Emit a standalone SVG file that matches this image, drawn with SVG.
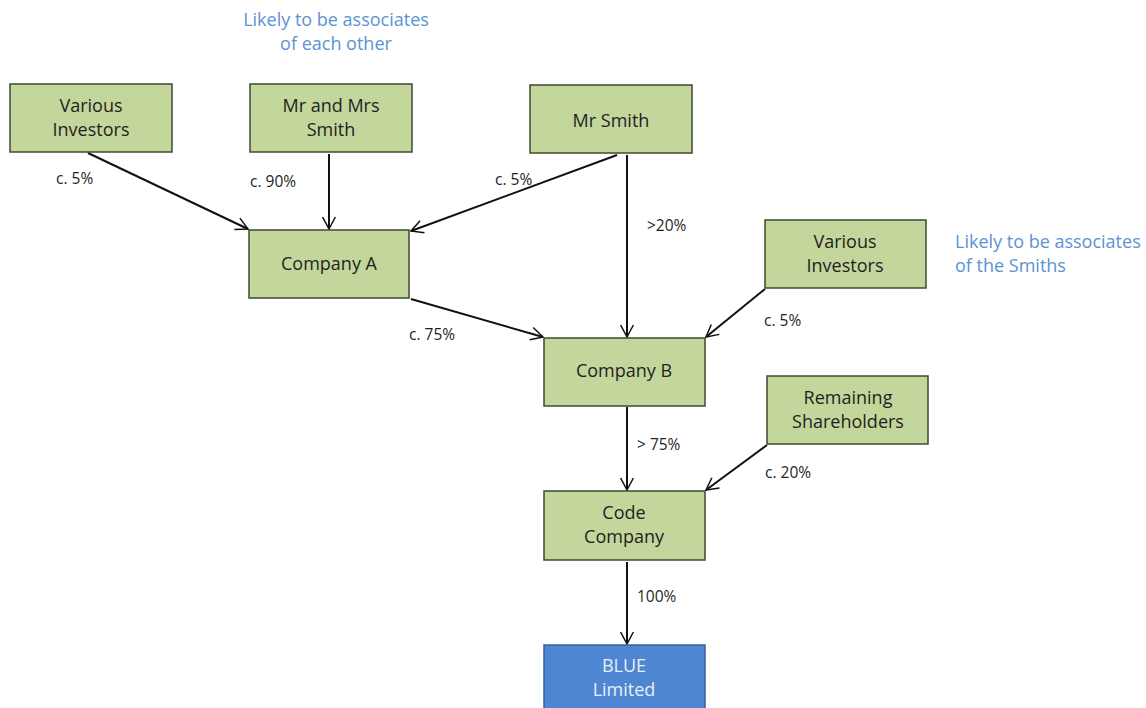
<svg xmlns="http://www.w3.org/2000/svg" width="1146" height="708" viewBox="0 0 1146 708">
<style>
.box{fill:#c3d69b;stroke:#3f4a30;stroke-width:1.5}
.blue{fill:#4f86d2;stroke:#3a5f99;stroke-width:1.5}
.t{font-family:"Open Sans","Noto Sans",sans-serif;font-size:18px;fill:#1f1f1f;text-anchor:middle}
.tw{font-family:"Open Sans","Noto Sans",sans-serif;font-size:18px;fill:#e8eef8;text-anchor:middle}
.l{font-family:"Open Sans","Noto Sans",sans-serif;font-size:15.5px;fill:#1f1f1f}
.n{font-family:"Open Sans","Noto Sans",sans-serif;font-size:18px;fill:#5b93d3}
.c{stroke:#111;stroke-width:2;fill:none;marker-end:url(#ah)}
</style>
<defs>
<marker id="ah" viewBox="0 0 20 20" refX="18" refY="10" markerWidth="15" markerHeight="15" markerUnits="userSpaceOnUse" orient="auto">
<polyline points="2,1.5 18,10 2,18.5" fill="none" stroke="#111" stroke-width="2"/>
</marker>
</defs>
<rect width="1146" height="708" fill="#fff"/>
<text class="n" x="336" y="26" text-anchor="middle">Likely to be associates</text>
<text class="n" x="336" y="50" text-anchor="middle">of each other</text>
<text class="n" x="955" y="248">Likely to be associates</text>
<text class="n" x="955" y="272">of the Smiths</text>
<g id="connectors">
<line class="c" x1="88" y1="153" x2="248" y2="229"/>
<line class="c" x1="329" y1="154" x2="329" y2="229"/>
<line class="c" x1="617" y1="155" x2="411" y2="231"/>
<line class="c" x1="627" y1="155" x2="627" y2="337"/>
<line class="c" x1="411" y1="299" x2="543" y2="337"/>
<line class="c" x1="765" y1="289" x2="706" y2="337"/>
<line class="c" x1="627" y1="407" x2="627" y2="490"/>
<line class="c" x1="767" y1="445" x2="706" y2="490"/>
<line class="c" x1="627" y1="562" x2="627" y2="644"/>
<text class="l" x="56" y="184">c. 5%</text>
<text class="l" x="250" y="187">c. 90%</text>
<text class="l" x="495" y="185">c. 5%</text>
<text class="l" x="647" y="231">&gt;20%</text>
<text class="l" x="409" y="340">c. 75%</text>
<text class="l" x="764" y="326">c. 5%</text>
<text class="l" x="637" y="450">&gt; 75%</text>
<text class="l" x="765" y="478">c. 20%</text>
<text class="l" x="637" y="602">100%</text>
</g>
<g id="various-investors-1"><rect class="box" x="10" y="84" width="162" height="68"/><text class="t" x="91" y="112">Various</text><text class="t" x="91" y="136">Investors</text></g>
<g id="mr-mrs-smith"><rect class="box" x="250" y="84" width="162" height="68"/><text class="t" x="331" y="112">Mr and Mrs</text><text class="t" x="331" y="136">Smith</text></g>
<g id="mr-smith"><rect class="box" x="530" y="85" width="162" height="68"/><text class="t" x="611" y="127">Mr Smith</text></g>
<g id="company-a"><rect class="box" x="249" y="230" width="160" height="68"/><text class="t" x="329" y="270">Company A</text></g>
<g id="various-investors-2"><rect class="box" x="765" y="220" width="161" height="68"/><text class="t" x="845" y="248">Various</text><text class="t" x="845" y="272">Investors</text></g>
<g id="company-b"><rect class="box" x="544" y="338" width="161" height="68"/><text class="t" x="624" y="377">Company B</text></g>
<g id="remaining-shareholders"><rect class="box" x="767" y="376" width="161" height="68"/><text class="t" x="848" y="404">Remaining</text><text class="t" x="848" y="428">Shareholders</text></g>
<g id="code-company"><rect class="box" x="544" y="491" width="161" height="69"/><text class="t" x="624" y="519">Code</text><text class="t" x="624" y="543">Company</text></g>
<g id="blue-limited"><rect class="blue" x="544" y="645" width="161" height="70"/><text class="tw" x="624" y="672">BLUE</text><text class="tw" x="624" y="696">Limited</text></g>
</svg>
